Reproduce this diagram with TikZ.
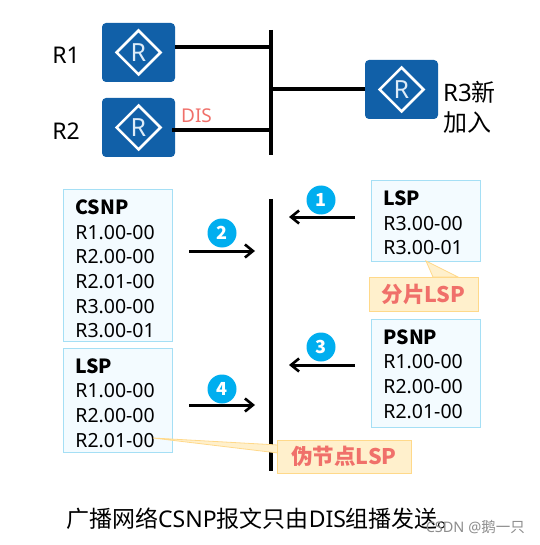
\documentclass[tikz,border=0pt]{standalone}
\usepackage{fontspec}
\setmainfont{Noto Sans}
\newfontfamily\cjk{Noto Sans CJK SC}
\definecolor{routerblue}{RGB}{17, 96, 168}
\definecolor{rlight}{RGB}{222, 236, 248}
\definecolor{disred}{RGB}{240, 112, 106}
\definecolor{stepcyan}{RGB}{0, 174, 239}
\definecolor{boxfill}{RGB}{243, 251, 255}
\definecolor{boxline}{RGB}{165, 223, 245}
\definecolor{notefill}{RGB}{255, 240, 204}
\definecolor{noteline}{RGB}{255, 217, 138}
\usetikzlibrary{shapes.geometric, arrows.meta, positioning, calc}

\begin{document}
\begin{tikzpicture}[
  x=1pt, y=-1pt,
  router/.style={fill=routerblue, rounded corners=4pt, minimum width=73pt, minimum height=59pt, inner sep=0pt},
  rmark/.style={diamond, draw=white, line width=2.5pt, minimum width=45pt, minimum height=45pt, inner sep=0pt, text=rlight, font=\fontsize{25}{25}\selectfont},
  rname/.style={font=\fontsize{23}{30}\selectfont, align=left, inner sep=0pt},
  bus/.style={line width=3.3pt},
  arr/.style={-{Straight Barb[length=8pt, width=13pt, line width=2.6pt]}, line width=3pt},
  stepnum/.style={circle, fill=stepcyan, text=white, minimum size=29pt, inner sep=0pt, font=\cjk\bfseries\fontsize{18}{18}\selectfont},
  pdubox/.style={draw=boxline, fill=boxfill, anchor=north west, line width=0.8pt, inner xsep=0pt, inner ysep=0pt, text width=109pt, align=left, font=\fontsize{19.5}{24.6}\selectfont},
  note/.style={draw=noteline, fill=notefill, line width=0.8pt, inner sep=0pt, text=disred, font=\cjk\bfseries\fontsize{21.5}{22}\selectfont}
]
  \useasboundingbox (0,0) rectangle (539,545);

  \node[router] (R1) at (138.5,52.5) {};
  \node[router] (R2) at (138.5,127.5) {};
  \node[router] (R3) at (401.5,89.5) {};
  \foreach \n in {R1,R2,R3}
    \node[rmark] at (\n) {R};

  \node[rname] (R1name) at (66,55) {R1};
  \node[rname] (R2name) at (66,131) {R2};
  \node[rname, anchor=west, font=\fontsize{24}{30}\selectfont] (R3name) at (443,107) {R3{\cjk 新}\\{\cjk 加入}};
  \node[text=disred, font=\fontsize{19}{19}\selectfont, inner sep=0pt] (dis) at (196.5,116) {DIS};

  \coordinate (topbusa) at (271,30);
  \coordinate (topbusb) at (271,155);
  \coordinate (j1) at (271,47);
  \coordinate (j2) at (271,130);
  \coordinate (j3) at (271,89);
  \draw[bus] (topbusa) -- (topbusb);
  \draw[bus] (R1.east |- j1) -- (j1);
  \draw[bus] ([xshift=-3pt]R2.east |- j2) -- (j2);
  \draw[bus] (R3.west |- j3) -- (j3);

  \coordinate (lowbusa) at (271,199);
  \coordinate (lowbusb) at (271,471);
  \draw[bus] (lowbusa) -- (lowbusb);

  \node[pdubox, minimum height=152pt] (csnp) at (63,189) {\hspace*{12pt}\rule{0pt}{22pt}{\cjk\bfseries CSNP}\\\hspace*{12pt}R1.00-00\\\hspace*{12pt}R2.00-00\\\hspace*{12pt}R2.01-00\\\hspace*{12pt}R3.00-00\\\hspace*{12pt}R3.00-01};
  \node[pdubox, minimum height=104pt] (lspl) at (63,348) {\hspace*{12pt}\rule{0pt}{20pt}{\cjk\bfseries LSP}\\\hspace*{12pt}R1.00-00\\\hspace*{12pt}R2.00-00\\\hspace*{12pt}R2.01-00};
  \node[pdubox, minimum height=81pt] (lspr) at (371,180) {\hspace*{12pt}\rule{0pt}{19pt}{\cjk\bfseries LSP}\\\hspace*{12pt}R3.00-00\\\hspace*{12pt}R3.00-01};
  \node[pdubox, minimum height=108pt] (psnp) at (371,319) {\hspace*{12pt}\rule{0pt}{16pt}{\cjk\bfseries PSNP}\\\hspace*{12pt}R1.00-00\\\hspace*{12pt}R2.00-00\\\hspace*{12pt}R2.01-00};

  \coordinate (s1a) at (355,217);
  \coordinate (s1b) at (289,217);
  \coordinate (s2a) at (189,251);
  \coordinate (s2b) at (255,251);
  \coordinate (s3a) at (355,365);
  \coordinate (s3b) at (289,365);
  \coordinate (s4a) at (189,405);
  \coordinate (s4b) at (255,405);
  \draw[arr] (s1a) -- (s1b);
  \draw[arr] (s2a) -- (s2b);
  \draw[arr] (s3a) -- (s3b);
  \draw[arr] (s4a) -- (s4b);
  \node[stepnum] (n1) at (321,200) {1};
  \node[stepnum] (n2) at (222,233) {2};
  \node[stepnum] (n3) at (321,347) {3};
  \node[stepnum] (n4) at (222,389) {4};

  \coordinate (tipa) at (426,261);
  \coordinate (tipb) at (153,438);
  \draw[draw=noteline, fill=notefill, line width=0.8pt] (tipa) -- (433,277) -- (458,277) -- cycle;
  \draw[draw=noteline, fill=notefill, line width=0.8pt] (tipb) -- (278,445) -- (278,453) -- cycle;
  \node[note, minimum width=109pt, minimum height=34pt] (fenpian) at (423.5,294) {分片LSP};
  \node[note, minimum width=134pt, minimum height=33pt] (weijd) at (344,456.5) {伪节点LSP};

  \node[inner sep=0pt, anchor=west, font=\fontsize{23}{24}\selectfont] (caption) at (66,519) {{\cjk 广播网络}CSNP{\cjk 报文只由}DIS{\cjk 组播发送。}};
  \node[inner sep=0pt, anchor=east, text=black!45, font=\fontsize{14.5}{15}\selectfont] (mark) at (525,527) {CSDN @{\cjk 鹅一只}};
\end{tikzpicture}
\end{document}
